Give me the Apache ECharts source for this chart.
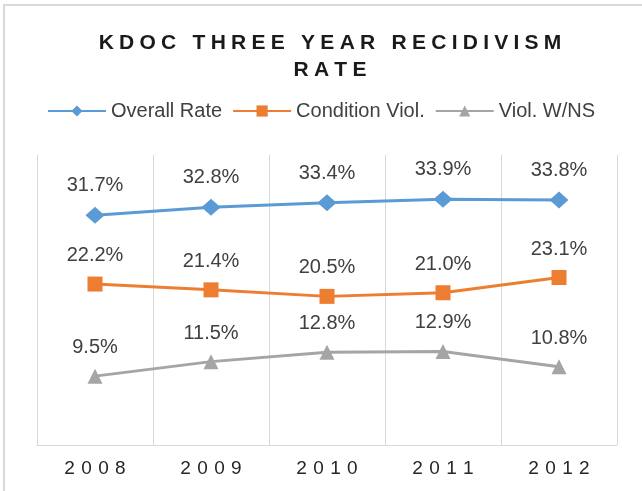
<!DOCTYPE html>
<html>
<head>
<meta charset="utf-8">
<script src="https://cdn.jsdelivr.net/npm/echarts@6/dist/echarts.min.js"></script>
<style>
  html, body { margin: 0; padding: 0; background: #fff; }
  #main { width: 642px; height: 491px; }
</style>
</head>
<body>
<div id="main"></div>
<script>
  // values
  var years = ['2008', '2009', '2010', '2011', '2012'];
  var overallRate = [31.7, 32.8, 33.4, 33.9, 33.8];
  var conditionViol = [22.2, 21.4, 20.5, 21.0, 23.1];
  var violWNS = [9.5, 11.5, 12.8, 12.9, 10.8];

  // spaced-out lettering like the original
  function spread(s, gap) {
    return s.split('').join(gap);
  }

  var font = "'Liberation Sans', Arial, sans-serif";
  var chart = echarts.init(document.getElementById('main'));

  function makeSeries(name, data, color, symbol, size) {
    return {
      name: name,
      type: 'line',
      data: data,
      symbol: symbol,
      symbolSize: size,
      lineStyle: { color: color, width: 3 },
      itemStyle: { color: color },
      label: {
        show: true,
        position: 'top',
        distance: 11,
        formatter: function (p) { return p.value.toFixed(1) + '%'; },
        color: '#404040',
        fontSize: 20,
        fontFamily: font
      },
      animation: false
    };
  }

  chart.setOption({
    animation: false,
    title: {
      text: spread('KDOC THREE YEAR RECIDIVISM', '\u2005') + '\n' + spread('RATE', '\u2005'),
      left: 325,
      textAlign: 'center',
      top: 25,
      textStyle: {
        fontSize: 21,
        fontWeight: 'bold',
        color: '#1a1a1a',
        fontFamily: font,
        lineHeight: 27
      }
    },
    legend: {
      top: 96,
      left: 'center',
      itemWidth: 58,
      itemHeight: 14,
      itemGap: 10,
      textStyle: { fontSize: 20, color: '#404040', fontFamily: font },
      data: ['Overall Rate', 'Condition Viol.', 'Viol. W/NS']
    },
    grid: { left: 37, right: 25, top: 155, bottom: 46 },
    xAxis: {
      type: 'category',
      data: years,
      boundaryGap: true,
      axisLine: { lineStyle: { color: '#d9d9d9' } },
      axisTick: { show: false },
      splitLine: { show: true, lineStyle: { color: '#d9d9d9' } },
      axisLabel: {
        color: '#262626',
        fontSize: 19,
        fontFamily: font,
        margin: 14,
        formatter: function (v) { return spread(v, '\u2004'); }
      }
    },
    yAxis: {
      type: 'value',
      min: 0,
      max: 40,
      show: false
    },
    graphic: [{
      type: 'rect',
      shape: { x: 4, y: 5, width: 700, height: 600 },
      style: { fill: 'none', stroke: '#d9d9d9', lineWidth: 2 },
      silent: true
    }],
    series: [
      makeSeries('Overall Rate', overallRate, '#5b9bd5', 'diamond', [19, 17]),
      makeSeries('Condition Viol.', conditionViol, '#ed7d31', 'rect', 15),
      makeSeries('Viol. W/NS', violWNS, '#a5a5a5', 'triangle', 15)
    ]
  });
</script>
</body>
</html>
